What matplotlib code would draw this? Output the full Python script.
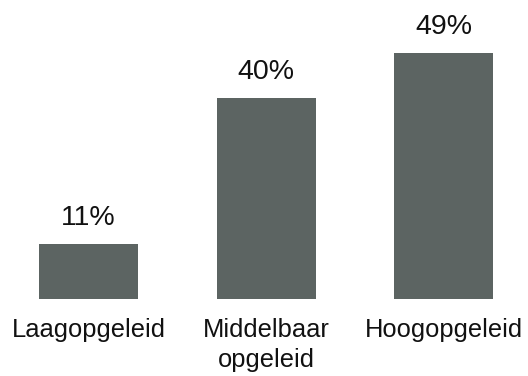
import matplotlib
matplotlib.use("Agg")
import matplotlib.pyplot as plt

categories = ["Laagopgeleid", "Middelbaar\nopgeleid", "Hoogopgeleid"]
values = [11, 40, 49]
value_labels = ["11%", "40%", "49%"]

plt.rcParams["font.family"] = ["Liberation Sans", "DejaVu Sans"]

fig = plt.figure(figsize=(5.28, 3.76), dpi=100)
ax = fig.add_axes([0, 77 / 376, 1, 299 / 376])

x = list(range(len(categories)))
bars = ax.bar(x, values, width=0.557, color="#5c6462")

for xi, v, lab in zip(x, values, value_labels):
    ax.annotate(lab, (xi, v), xytext=(0, 13.7), textcoords="offset points",
                ha="center", va="baseline", fontsize=20.5, color="#111111")

ax.set_xlim(-0.498, 2.473)
ax.set_ylim(0, 59.6)
ax.set_xticks(x)
ax.set_xticklabels(categories, fontsize=18.4, color="#111111", linespacing=1.3)
ax.tick_params(axis="x", length=0, pad=14)
ax.set_yticks([])
for s in ax.spines.values():
    s.set_visible(False)

fig.savefig("out.png", dpi=100)
